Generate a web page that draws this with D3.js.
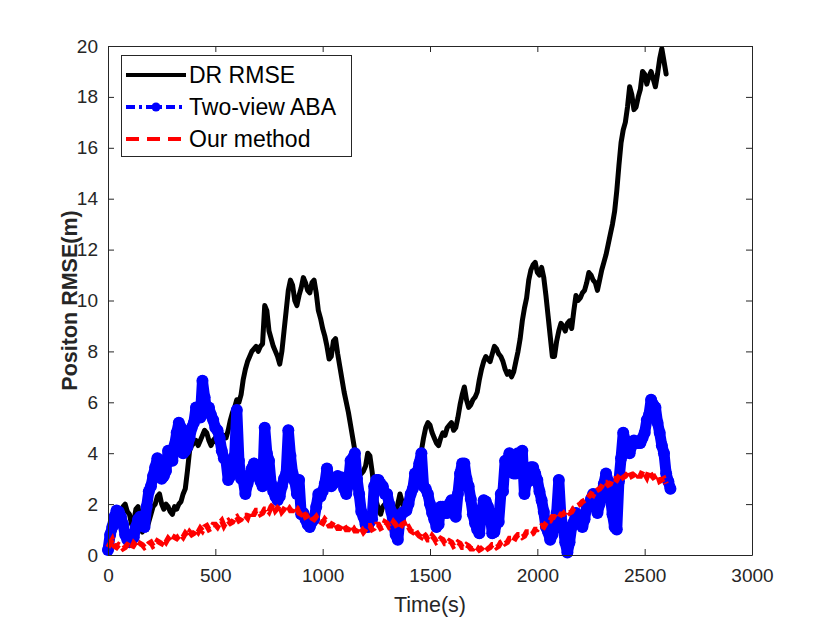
<!DOCTYPE html>
<html>
<head>
<meta charset="utf-8">
<script src="https://cdn.jsdelivr.net/npm/d3@7"></script>
<style>
  body { margin: 0; background: #fff; }
  text { font-family: "Liberation Sans", Arial, sans-serif; fill: #262626; }
</style>
</head>
<body>
<div id="chart"></div>
<script>
//Sampling step of the three series (seconds)
let timeStep = 10;

//DR RMSE, one value every 10 s from 0 s (one row = 100 s)
let drRmse = [0.1, 0.5, 0.7, 1.0, 1.2, 1.5, 1.6, 1.9, 2.0, 1.7,
  1.6, 1.2, 1.3, 1.8, 1.9, 1.3, 0.9, 1.1, 1.0, 1.3,
  1.6, 1.9, 2.0, 2.3, 2.4, 2.0, 1.8, 2.0, 1.9, 1.7,
  1.6, 1.9, 1.8, 2.0, 2.1, 2.4, 2.6, 3.3, 4.1, 4.3,
  4.4, 4.5, 4.3, 4.5, 4.7, 4.9, 4.8, 4.5, 4.3, 4.5,
  4.6, 4.4, 4.5, 4.6, 4.7, 4.6, 4.9, 5.3, 5.6, 5.8,
  6.1, 6.0, 6.3, 6.9, 7.3, 7.6, 7.8, 8.0, 8.1, 8.2,
  8.0, 8.2, 8.3, 9.8, 9.6, 8.8, 8.5, 8.2, 8.0, 7.8,
  7.5, 8.0, 8.8, 9.6, 10.4, 10.8, 10.6, 10.0, 9.8, 10.2,
  10.5, 10.9, 10.7, 10.4, 10.3, 10.7, 10.8, 10.3, 9.6, 9.3,
  8.9, 8.6, 8.2, 7.7, 7.8, 8.4, 8.5, 7.9, 7.4, 6.9,
  6.4, 6.0, 5.6, 5.1, 4.6, 4.1, 3.7, 3.2, 3.2, 3.3,
  3.5, 4.0, 3.9, 3.3, 2.6, 2.1, 1.8, 1.6, 1.9, 2.0,
  2.1, 2.2, 2.0, 1.7, 1.6, 2.0, 2.4, 2.1, 1.7, 1.9,
  2.3, 2.5, 2.7, 3.0, 3.4, 3.8, 4.1, 4.6, 5.0, 5.2,
  5.1, 4.8, 4.6, 4.4, 4.3, 4.6, 4.8, 4.7, 5.0, 5.1,
  5.2, 4.9, 5.0, 5.4, 5.9, 6.3, 6.6, 6.1, 5.8, 5.9,
  6.1, 6.2, 6.4, 6.9, 7.3, 7.6, 7.8, 7.7, 7.6, 7.9,
  8.2, 8.1, 7.9, 7.8, 7.6, 7.3, 7.1, 7.2, 7.0, 7.2,
  7.6, 8.0, 8.5, 9.2, 9.7, 10.1, 10.8, 11.2, 11.4, 11.5,
  11.1, 11.0, 11.3, 10.9, 10.2, 9.4, 8.6, 7.8, 7.8, 8.4,
  8.8, 9.1, 9.0, 8.8, 9.1, 9.2, 8.9, 9.6, 10.2, 10.0,
  10.1, 10.3, 10.4, 10.7, 11.1, 11.0, 10.8, 10.7, 10.4, 10.8,
  11.2, 11.5, 11.8, 12.2, 12.6, 13.0, 13.5, 14.3, 15.3, 16.2,
  16.7, 17.0, 17.6, 18.4, 18.1, 17.5, 17.6, 18.0, 18.3, 19.0,
  18.9, 18.5, 18.8, 19.0, 18.7, 18.4, 18.9, 19.5, 19.9, 19.4,
  18.9];

//Two-view ABA
let abaRmse = [0.2, 0.8, 1.1, 1.5, 1.75, 1.7, 1.5, 1.2, 0.8, 0.6,
  0.5, 0.6, 0.7, 1.1, 1.4, 1.5, 1.2, 1.1, 1.9, 2.5,
  2.7, 3.1, 3.45, 3.8, 3.6, 3.0, 3.1, 3.3, 4.1, 3.8,
  3.7, 4.3, 4.8, 5.2, 5.0, 4.0, 4.1, 4.25, 4.6, 5.0,
  5.2, 5.8, 5.6, 5.4, 6.85, 6.2, 5.7, 5.8, 5.5, 5.3,
  5.0, 4.9, 4.6, 4.1, 3.8, 3.7, 2.95, 3.1, 3.3, 3.9,
  5.7, 3.7, 3.0, 2.95, 2.4, 2.8, 3.05, 3.4, 3.6, 3.2,
  3.2, 2.9, 2.7, 5.0, 4.0, 3.7, 2.8, 2.5, 2.3, 2.15,
  2.3, 2.7, 3.0, 3.2, 4.9, 3.9, 3.2, 2.9, 2.4, 2.95,
  1.6, 1.65, 1.4, 1.2, 1.1, 1.3, 1.4, 1.9, 2.4, 2.3,
  2.5, 2.8, 3.4, 3.0, 2.7, 2.8, 2.9, 3.1, 3.0, 3.05,
  2.6, 2.4, 2.8, 3.7, 3.8, 4.0, 3.0, 2.4, 1.7, 1.5,
  1.2, 1.1, 1.3, 1.4, 2.7, 2.95, 2.95, 2.8, 2.7, 2.4,
  2.4, 2.0, 1.7, 1.2, 0.8, 0.6, 1.4, 1.65, 1.7, 1.75,
  2.0, 2.4, 2.6, 3.2, 3.2, 3.6, 4.0, 2.7, 2.6, 2.4,
  2.0, 1.65, 1.4, 1.1, 1.2, 1.9, 1.9, 1.65, 1.65, 2.0,
  2.15, 1.9, 1.5, 2.4, 3.2, 3.6, 3.6, 3.0, 2.7, 2.2,
  1.6, 1.25, 1.0, 0.85, 1.65, 2.15, 2.1, 1.9, 1.65, 0.85,
  0.9, 1.25, 1.3, 2.4, 2.5, 3.7, 3.7, 4.0, 3.9, 3.2,
  3.2, 4.0, 4.0, 4.1, 2.4, 2.95, 2.9, 3.45, 3.45, 3.2,
  2.95, 2.5, 2.15, 1.7, 1.1, 0.9, 0.6, 0.8, 1.2, 1.65,
  2.95, 1.5, 1.1, 0.5, 0.1, 0.5, 1.1, 1.3, 1.65, 1.4,
  1.3, 1.1, 1.4, 1.9, 1.9, 2.2, 2.4, 2.0, 1.65, 2.0,
  2.4, 2.8, 3.2, 2.9, 2.3, 1.6, 1.1, 1.0, 2.9, 3.8,
  4.8, 4.5, 4.3, 4.0, 4.3, 4.5, 4.4, 4.4, 4.4, 4.6,
  4.8, 5.3, 5.5, 6.1, 5.9, 5.8, 5.2, 4.8, 4.3, 4.0,
  3.2, 2.9, 2.6];

//Our method
let oursRmse = [0.3, 0.45, 0.6, 0.35, 0.3, 0.4, 0.35, 0.25, 0.3, 0.4,
  0.35, 0.25, 0.45, 0.35, 0.3, 0.45, 0.4, 0.3, 0.35, 0.45,
  0.5, 0.35, 0.4, 0.55, 0.5, 0.45, 0.6, 0.5, 0.65, 0.55,
  0.55, 0.7, 0.65, 0.75, 0.8, 0.7, 0.85, 0.75, 0.9, 0.8,
  0.85, 1.0, 0.9, 1.05, 0.95, 1.1, 1.15, 1.0, 1.05, 1.2,
  1.2, 1.1, 1.25, 1.35, 1.15, 1.3, 1.35, 1.25, 1.3, 1.45,
  1.5, 1.35, 1.4, 1.55, 1.55, 1.45, 1.7, 1.6, 1.6, 1.75,
  1.75, 1.6, 1.65, 1.8, 1.8, 1.7, 1.9, 2.0, 1.75, 1.85,
  1.95, 1.7, 1.8, 1.95, 1.9, 1.75, 1.75, 1.9, 1.85, 1.65,
  1.6, 1.7, 1.5, 1.55, 1.6, 1.45, 1.4, 1.5, 1.35, 1.3,
  1.25, 1.4, 1.3, 1.15, 1.15, 1.3, 1.2, 1.05, 1.05, 1.2,
  1.15, 1.0, 1.0, 1.15, 1.1, 0.95, 0.95, 1.1, 1.05, 0.9,
  1.0, 1.15, 1.15, 1.0, 1.05, 1.2, 1.2, 1.05, 1.1, 1.3,
  1.25, 1.1, 1.15, 1.3, 1.2, 1.05, 1.05, 1.2, 1.25, 1.05,
  1.1, 0.95, 0.9, 1.0, 0.85, 0.75, 0.7, 0.85, 0.75, 0.6,
  0.6, 0.75, 0.65, 0.5, 0.55, 0.65, 0.6, 0.45, 0.45, 0.55,
  0.5, 0.35, 0.4, 0.5, 0.45, 0.3, 0.3, 0.4, 0.35, 0.25,
  0.25, 0.35, 0.3, 0.2, 0.25, 0.35, 0.35, 0.25, 0.3, 0.4,
  0.4, 0.3, 0.35, 0.5, 0.55, 0.45, 0.5, 0.65, 0.65, 0.55,
  0.7, 0.8, 0.8, 0.7, 0.75, 0.9, 0.9, 0.8, 0.85, 1.0,
  1.0, 1.1, 1.15, 1.1, 1.25, 1.35, 1.35, 1.5, 1.5, 1.45,
  1.45, 1.6, 1.6, 1.7, 1.75, 1.65, 1.7, 1.85, 1.9, 1.95,
  2.0, 2.1, 2.15, 2.2, 2.3, 2.4, 2.35, 2.5, 2.55, 2.6,
  2.7, 2.85, 2.85, 2.75, 2.8, 3.0, 3.0, 2.95, 3.1, 3.2,
  3.05, 3.1, 3.2, 3.3, 3.1, 3.15, 3.25, 3.1, 3.1, 3.3,
  3.2, 3.05, 3.3, 3.15, 3.05, 3.1, 3.15, 2.9, 2.95, 3.0,
  2.8];

let xTicks = [0, 500, 1000, 1500, 2000, 2500, 3000];
let yTicks = [0, 2, 4, 6, 8, 10, 12, 14, 16, 18, 20];

let seriesNames = ["DR RMSE", "Two-view ABA", "Our method"];

//SVG sizes and plot box
let width = 830,
  height = 624;
let box = {left: 108, right: 752, top: 46, bottom: 555};
let axisColor = "#262626";

let svg = d3.select("#chart").append("svg")
  .attr("width", width)
  .attr("height", height);

let x = d3.scaleLinear().domain([0, 3000]).range([box.left, box.right]);
let y = d3.scaleLinear().domain([0, 20]).range([box.bottom, box.top]);

//turn a value list into [time, value] pairs
function toPoints(values) {
  return values.map(function (v, i) { return [i * timeStep, v]; });
}

let line = d3.line()
  .x(function (d) { return x(d[0]); })
  .y(function (d) { return y(d[1]); });

let plot = svg.append("g");

//DR RMSE
plot.append("path")
  .datum(toPoints(drRmse))
  .attr("d", line)
  .attr("fill", "none")
  .attr("stroke", "black")
  .attr("stroke-width", 5)
  .attr("stroke-linejoin", "round")
  .attr("stroke-linecap", "round");

//Two-view ABA, markers at every sample merge into a thick trail
let abaPoints = toPoints(abaRmse);
plot.append("path")
  .datum(abaPoints)
  .attr("d", line)
  .attr("fill", "none")
  .attr("stroke", "#0000ff")
  .attr("stroke-width", 11)
  .attr("stroke-linejoin", "round")
  .attr("stroke-linecap", "round");
plot.selectAll(".aba-marker")
  .data(abaPoints)
  .enter().append("circle")
  .attr("class", "aba-marker")
  .attr("cx", function (d) { return x(d[0]); })
  .attr("cy", function (d) { return y(d[1]); })
  .attr("r", 6)
  .attr("fill", "#0000ff");

//Our method
plot.append("path")
  .datum(toPoints(oursRmse))
  .attr("d", line)
  .attr("fill", "none")
  .attr("stroke", "#ff0000")
  .attr("stroke-width", 5.5)
  .attr("stroke-dasharray", "9,4");

//Axes (ticks inside, box on)
function styleAxis(g) {
  g.selectAll("path, line").attr("stroke", axisColor);
  g.selectAll("text")
    .attr("fill", axisColor)
    .style("font-size", "19px")
    .style("font-family", "'Liberation Sans', Arial, sans-serif");
}

let fmt = d3.format("d");

svg.append("g")
  .attr("transform", "translate(0," + box.bottom + ")")
  .call(d3.axisBottom(x).tickValues(xTicks).tickFormat(fmt).tickSize(-6).tickSizeOuter(0).tickPadding(14))
  .call(styleAxis);
svg.append("g")
  .attr("transform", "translate(0," + box.top + ")")
  .call(d3.axisTop(x).tickValues(xTicks).tickSize(-6).tickSizeOuter(0).tickFormat(""))
  .call(styleAxis);
svg.append("g")
  .attr("transform", "translate(" + box.left + ",0)")
  .call(d3.axisLeft(y).tickValues(yTicks).tickFormat(fmt).tickSize(-6).tickSizeOuter(0).tickPadding(10))
  .call(styleAxis);
svg.append("g")
  .attr("transform", "translate(" + box.right + ",0)")
  .call(d3.axisRight(y).tickValues(yTicks).tickSize(-6).tickSizeOuter(0).tickFormat(""))
  .call(styleAxis);

//Axis labels
svg.append("text")
  .attr("x", (box.left + box.right) / 2)
  .attr("y", 612)
  .attr("text-anchor", "middle")
  .style("font-size", "21.5px")
  .text("Time(s)");

svg.append("text")
  .attr("transform", "translate(77," + (box.top + box.bottom) / 2 + ") rotate(-90)")
  .attr("text-anchor", "middle")
  .style("font-size", "21.5px")
  .style("font-weight", "bold")
  .text("Positon RMSE(m)");

//Legend
let legend = svg.append("g");
legend.append("rect")
  .attr("x", 121.5)
  .attr("y", 55.5)
  .attr("width", 230)
  .attr("height", 101)
  .attr("fill", "white")
  .attr("stroke", axisColor)
  .attr("stroke-width", 1);

let legendRows = [75, 107, 139];
let legendStyles = [
  {color: "black", dash: null, marker: false},
  {color: "#0000ff", dash: "9,4,3,4", marker: true},
  {color: "#ff0000", dash: "13,8", marker: false}
];

seriesNames.forEach(function (name, i) {
  let ly = legendRows[i];
  legend.append("line")
    .attr("x1", 126).attr("x2", 186)
    .attr("y1", ly).attr("y2", ly)
    .attr("stroke", legendStyles[i].color)
    .attr("stroke-width", 4)
    .attr("stroke-dasharray", legendStyles[i].dash);
  if (legendStyles[i].marker) {
    legend.append("circle")
      .attr("cx", 156).attr("cy", ly)
      .attr("r", 4.5)
      .attr("fill", legendStyles[i].color);
  }
  legend.append("text")
    .attr("x", 189)
    .attr("y", ly)
    .attr("dy", "0.36em")
    .style("font-size", "23px")
    .style("fill", "black")
    .text(name);
});
</script>
</body>
</html>
